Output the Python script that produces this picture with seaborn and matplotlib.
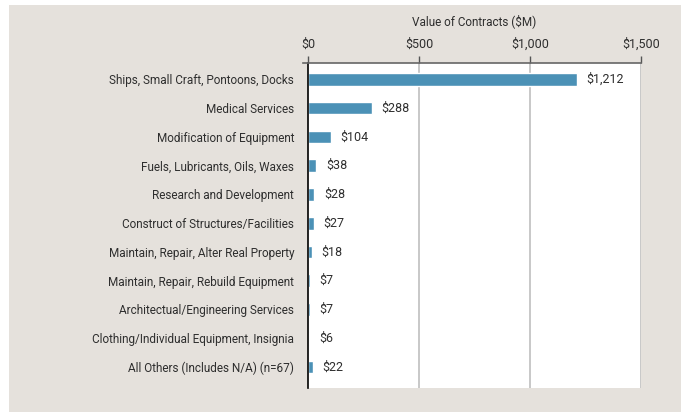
import matplotlib
matplotlib.use("Agg")
import matplotlib.pyplot as plt
from matplotlib.patches import Rectangle
import seaborn as sns
import pandas as pd

# Podaci
categories = [
    "Ships, Small Craft, Pontoons, Docks",
    "Medical Services",
    "Modification of Equipment",
    "Fuels, Lubricants, Oils, Waxes",
    "Research and Development",
    "Construct of Structures/Facilities",
    "Maintain, Repair, Alter Real Property",
    "Maintain, Repair, Rebuild Equipment",
    "Architectual/Engineering Services",
    "Clothing/Individual Equipment, Insignia",
    "All Others (Includes N/A) (n=67)",
]
values = [1212, 288, 104, 38, 28, 27, 18, 7, 7, 6, 22]
value_labels = ["$1,212", "$288", "$104", "$38", "$28", "$27", "$18", "$7", "$7", "$6", "$22"]
x_ticks = [0, 500, 1000, 1500]
x_tick_labels = ["$0", "$500", "$1,000", "$1,500"]

df = pd.DataFrame({"Category": categories, "Value": values})

sns.set_theme(style="white")
plt.rcParams['font.family'] = ['Roboto', 'DejaVu Sans']

text_color = "#2e2e2e"
bar_color = "#4b91b6"
fs = 8.5

fig = plt.figure(figsize=(6.86, 4.12), dpi=100)
fig.patch.set_facecolor("white")
# bez pozadina panela
fig.patches.append(Rectangle((9 / 686, 0), 672 / 686, 407 / 412, transform=fig.transFigure,
                             facecolor="#e5e1dc", edgecolor="none", zorder=-1))

ax = fig.add_axes([308 / 686, 1 - 388 / 412, 333 / 686, 325 / 412])
ax.set_facecolor("white")

sns.barplot(data=df, x="Value", y="Category", orient="h", color=bar_color,
            width=0.44, saturation=1, ax=ax)

ax.set_xlim(0, 1500)
ax.set_ylim(10.73, -0.57)

# mreza
for xv in x_ticks[1:]:
    ax.axvline(xv, color="#c4c4c4", lw=1.3, zorder=0)

ax.xaxis.tick_top()
ax.xaxis.set_label_position("top")
ax.set_xticks(x_ticks)
ax.set_xticklabels(x_tick_labels, fontsize=9, color=text_color)
ax.set_xlabel("Value of Contracts ($M)", fontsize=fs, color=text_color, labelpad=9)
ax.set_ylabel("")
ax.tick_params(axis="x", direction="out", length=5, width=1, color="#555555", pad=4)
ax.tick_params(axis="y", length=0, pad=10, labelsize=fs, labelcolor=text_color)

for s in ["right", "bottom"]:
    ax.spines[s].set_visible(False)
ax.spines["top"].set_color("#666666")
ax.spines["top"].set_linewidth(1.2)
ax.spines["top"].set_bounds(-22, 1500)
ax.spines["left"].set_color("black")
ax.spines["left"].set_linewidth(1.2)

# oznake vrednosti
for i, (v, lab) in enumerate(zip(values, value_labels)):
    ax.annotate(lab, xy=(v, i), xytext=(7, 0), textcoords="offset points",
                va="center", ha="left", fontsize=9, color=text_color)

fig.savefig("out.png", dpi=100)
